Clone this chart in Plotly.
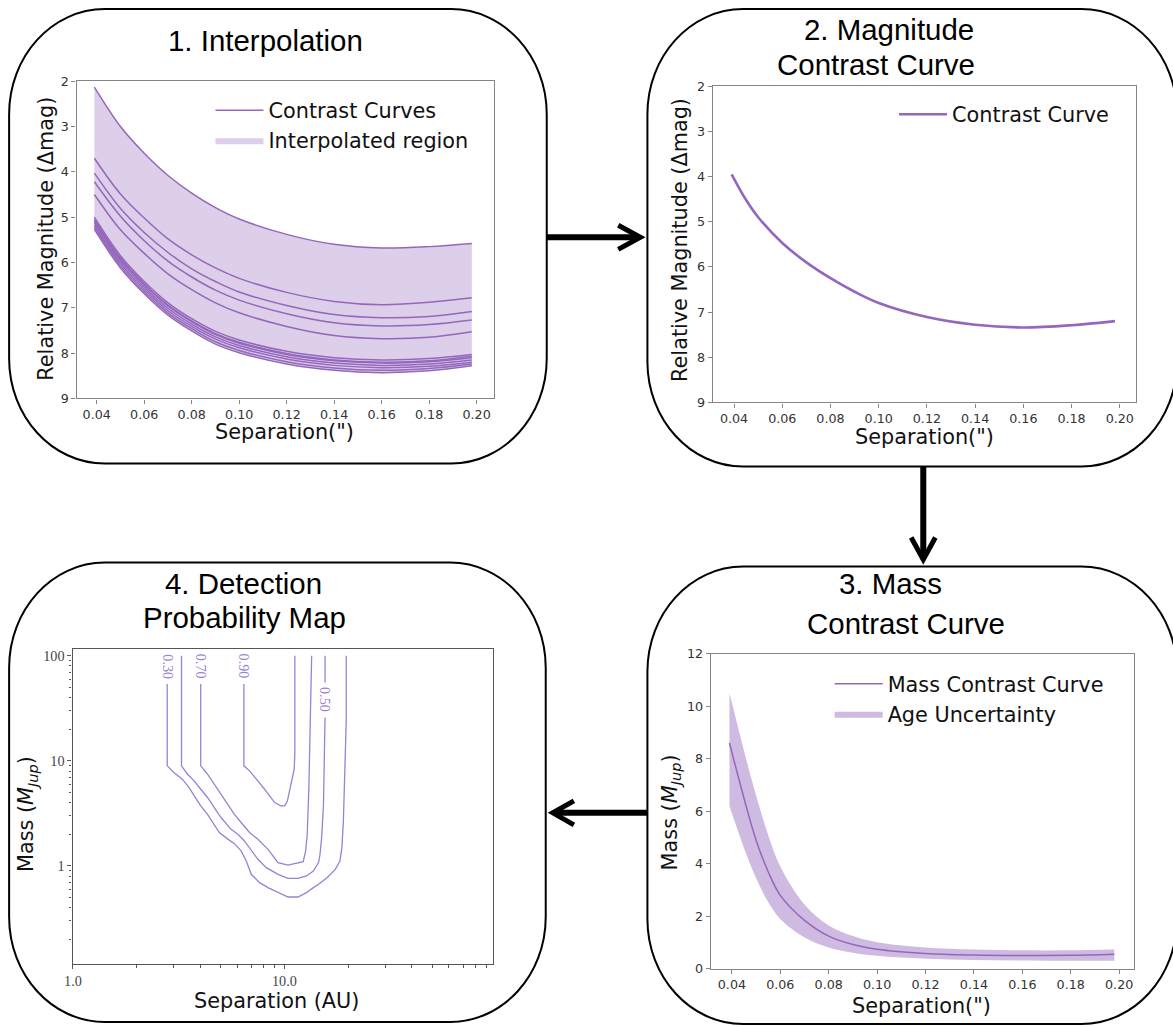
import math
import plotly.graph_objects as go

# The rendered page shows the figure offset by the 8px body margin and scaled by ~0.985;
# compensate so that reference pixel positions land where intended.
TARGET_W, TARGET_H = 1173, 1027
OFF = 8
SX = TARGET_W / (TARGET_W + 2 * OFF)
SY = TARGET_H / (TARGET_H + 2 * OFF)
W = TARGET_W + OFF
H = TARGET_H + OFF
FS = 1 / SY  # font compensation


def px(x):
    return (x / SX - OFF) / W


def py(y):
    return 1 - (y / SY - OFF) / H


PURPLE = "#9467bd"
FILL1 = "rgba(148,103,189,0.32)"
FILL3 = "rgba(148,103,189,0.45)"
CONTOUR = "#9b80d4"

# ---------------- Panel 1: interpolation ----------------
sep1 = [0.039, 0.05, 0.06, 0.07, 0.08, 0.09, 0.10, 0.12, 0.14, 0.16, 0.18, 0.198]
curve_a = [2.13, 3.00, 3.59, 4.08, 4.47, 4.79, 5.04, 5.38, 5.60, 5.68, 5.65, 5.58]
curve_b = [3.70, 4.49, 5.02, 5.48, 5.83, 6.12, 6.35, 6.66, 6.86, 6.93, 6.88, 6.78]
curve_c = [4.03, 4.81, 5.34, 5.78, 6.14, 6.42, 6.65, 6.95, 7.15, 7.22, 7.19, 7.08]
curve_d = [4.22, 4.98, 5.52, 5.97, 6.32, 6.61, 6.83, 7.13, 7.33, 7.40, 7.37, 7.27]
curve_e = [4.50, 5.28, 5.80, 6.25, 6.60, 6.89, 7.11, 7.41, 7.61, 7.68, 7.65, 7.53]
curve_f1 = [5.00, 5.85, 6.42, 6.89, 7.24, 7.52, 7.71, 7.96, 8.10, 8.15, 8.12, 8.03]
curve_f2 = [5.05, 5.90, 6.47, 6.94, 7.29, 7.57, 7.76, 8.01, 8.15, 8.20, 8.17, 8.07]
curve_f3 = [5.08, 5.93, 6.49, 6.96, 7.31, 7.59, 7.78, 8.03, 8.17, 8.22, 8.19, 8.10]
curve_f4 = [5.12, 5.97, 6.54, 7.01, 7.36, 7.64, 7.83, 8.08, 8.22, 8.27, 8.24, 8.15]
curve_f5 = [5.17, 6.02, 6.59, 7.06, 7.41, 7.69, 7.88, 8.13, 8.27, 8.32, 8.29, 8.20]
curve_f6 = [5.22, 6.07, 6.64, 7.11, 7.46, 7.75, 7.94, 8.19, 8.33, 8.38, 8.34, 8.24]
curve_f7 = [5.27, 6.12, 6.69, 7.16, 7.51, 7.80, 7.99, 8.24, 8.38, 8.43, 8.39, 8.28]
curves1 = [curve_a, curve_b, curve_c, curve_d, curve_e, curve_f1, curve_f2,
           curve_f3, curve_f4, curve_f5, curve_f6, curve_f7]

# ---------------- Panel 2: magnitude contrast curve ----------------
sep2 = [0.039, 0.045, 0.05, 0.06, 0.07, 0.08, 0.09, 0.10, 0.12, 0.14, 0.16, 0.18, 0.198]
mag2 = [3.95, 4.52, 4.90, 5.47, 5.90, 6.25, 6.55, 6.80, 7.11, 7.28, 7.34, 7.29, 7.20]

# ---------------- Panel 3: mass contrast curve ----------------
sep3 = [0.039, 0.045, 0.05, 0.055, 0.06, 0.07, 0.08, 0.09, 0.10, 0.12, 0.14, 0.16, 0.18, 0.198]
mass3 = [8.6, 6.5, 4.9, 3.7, 2.8, 1.85, 1.25, 0.93, 0.75, 0.59, 0.53, 0.51, 0.52, 0.56]
mass3_hi = [10.5, 8.3, 6.6, 5.1, 3.9, 2.45, 1.65, 1.25, 1.02, 0.82, 0.74, 0.71, 0.71, 0.74]
mass3_lo = [6.2, 4.6, 3.45, 2.55, 1.9, 1.2, 0.82, 0.62, 0.50, 0.39, 0.34, 0.32, 0.31, 0.31]

# ---------------- Panel 4: detection probability contours ----------------
c30_au = [2.79, 2.79, 3.00, 3.29, 3.54, 3.81, 4.02, 4.33, 4.66, 4.92, 5.40, 5.80, 6.24, 6.59,
          6.97, 7.63, 8.36, 9.33, 10.4, 11.6, 12.7, 13.7, 14.5, 15.9, 17.4, 18.3, 18.7, 19.0,
          19.2, 19.4, 19.6, 19.6]
c30_m = [53.7, 8.96, 7.74, 6.69, 5.57, 4.48, 3.73, 3.10, 2.49, 2.08, 1.80, 1.63, 1.39, 1.12,
         0.833, 0.694, 0.622, 0.557, 0.507, 0.507, 0.557, 0.622, 0.669, 0.774, 0.929, 1.116,
         1.50, 2.68, 5.57, 11.6, 24.0, 100]
c50_au = [3.26, 3.26, 3.48, 3.74, 4.02, 4.33, 4.66, 5.01, 5.59, 6.02, 6.47, 6.97, 7.49, 8.21,
          9.33, 10.4, 11.6, 12.7, 13.7, 14.5, 14.73, 15.0, 15.3, 15.45, 15.56, None, 15.56, 15.56]
c50_m = [100, 8.96, 7.46, 6.45, 5.37, 4.48, 3.59, 2.89, 2.23, 2.00, 1.73, 1.39, 1.157, 0.964,
         0.833, 0.763, 0.763, 0.803, 0.896, 1.076, 1.29, 1.86, 3.87, 11.6, 25.9, None, 55.7, 100]
c70_au = [4.02, 4.02, 4.33, 4.66, 5.01, 5.39, 5.80, 6.24, 6.84, 7.49, 8.36, 9.33, 10.4, 12.27,
          12.6, 12.82, 13.05, 13.25, 13.45]
c70_m = [53.7, 8.96, 7.46, 5.99, 4.81, 3.87, 3.10, 2.59, 2.08, 1.795, 1.44, 1.076, 1.02, 1.10,
         1.39, 2.00, 5.57, 24.0, 100]
c90_au = [6.43, 6.43, 6.84, 7.22, 7.63, 8.06, 8.51, 8.99, 9.61, 10.04, 10.33, 10.59, 10.88,
          11.12, 11.2, 11.2]
c90_m = [53.7, 8.96, 8.03, 7.05, 6.22, 5.37, 4.64, 4.01, 3.73, 3.73, 4.16, 5.18, 6.94, 8.33,
         11.6, 100]
contour_au = [c30_au, c50_au, c70_au, c90_au]
contour_m = [c30_m, c50_m, c70_m, c90_m]
contour_levels = ["0.30", "0.50", "0.70", "0.90"]
label_au = [2.79, 15.56, 4.02, 6.43]
label_m = [79, 38.7, 79, 79]

# tick labels
sep_ticks = [0.04, 0.06, 0.08, 0.10, 0.12, 0.14, 0.16, 0.18, 0.20]
sep_ticktext = ["0.04", "0.06", "0.08", "0.10", "0.12", "0.14", "0.16", "0.18", "0.20"]
mag_ticks = [2, 3, 4, 5, 6, 7, 8, 9]
mass_ticks = [0, 2, 4, 6, 8, 10, 12]
au_ticks = [1, 10]
au_ticktext = ["1.0", "10.0"]
au_minor = [2, 3, 4, 5, 6, 7, 8, 9, 20, 30, 40, 50, 60, 70, 80, 90]
m_ticks = [1, 10, 100]
m_ticktext = ["1", "10", "100"]
m_minor = [0.2, 0.3, 0.4, 0.5, 0.6, 0.7, 0.8, 0.9, 2, 3, 4, 5, 6, 7, 8, 9,
           20, 30, 40, 50, 60, 70, 80, 90]

fig = go.Figure()

# Panel 1 traces
fig.add_trace(go.Scatter(x=sep1, y=curve_f7, mode="lines", line=dict(width=0, shape="spline"),
                         showlegend=False, hoverinfo="skip", xaxis="x", yaxis="y"))
fig.add_trace(go.Scatter(x=sep1, y=curve_a, mode="lines", line=dict(width=0, shape="spline"),
                         fill="tonexty", fillcolor=FILL1, name="Interpolated region",
                         legend="legend", legendrank=2, xaxis="x", yaxis="y"))
for i, c in enumerate(curves1):
    fig.add_trace(go.Scatter(x=sep1, y=c, mode="lines",
                             line=dict(color=PURPLE, width=1.5, shape="spline"),
                             name="Contrast Curves", showlegend=(i == 0), legendgroup="cc",
                             legend="legend", legendrank=1, xaxis="x", yaxis="y"))

# Panel 2
fig.add_trace(go.Scatter(x=sep2, y=mag2, mode="lines",
                         line=dict(color=PURPLE, width=2.6, shape="spline"),
                         name="Contrast Curve", legend="legend2", xaxis="x2", yaxis="y2"))

# Panel 3
fig.add_trace(go.Scatter(x=sep3, y=mass3_lo, mode="lines", line=dict(width=0, shape="spline"),
                         showlegend=False, hoverinfo="skip", xaxis="x3", yaxis="y3"))
fig.add_trace(go.Scatter(x=sep3, y=mass3_hi, mode="lines", line=dict(width=0, shape="spline"),
                         fill="tonexty", fillcolor=FILL3, name="Age Uncertainty",
                         legend="legend3", legendrank=2, xaxis="x3", yaxis="y3"))
fig.add_trace(go.Scatter(x=sep3, y=mass3, mode="lines",
                         line=dict(color=PURPLE, width=1.5, shape="spline"),
                         name="Mass Contrast Curve", legend="legend3", legendrank=1,
                         xaxis="x3", yaxis="y3"))

# Panel 4
for xa, ya in zip(contour_au, contour_m):
    fig.add_trace(go.Scatter(x=xa, y=ya, mode="lines", line=dict(color=CONTOUR, width=1.3),
                             showlegend=False, connectgaps=False, xaxis="x4", yaxis="y4"))

annotations = []
for lev, la, lm in zip(contour_levels, label_au, label_m):
    annotations.append(dict(x=math.log10(la), y=math.log10(lm), xref="x4", yref="y4", text=lev,
                            showarrow=False, textangle=90,
                            font=dict(family="Liberation Serif", size=14 * FS, color=CONTOUR)))

# panel titles
TFONT = dict(family="Liberation Sans", size=29 * FS, color="#000")
for text, x, y in [("1. Interpolation", 264, 40),
                   ("2. Magnitude", 883, 29), ("Contrast Curve", 870, 64),
                   ("3. Mass", 884, 583), ("Contrast Curve", 900, 623),
                   ("4. Detection", 242, 583), ("Probability Map", 243, 617)]:
    annotations.append(dict(x=px(x), y=py(y), xref="paper", yref="paper", text=text,
                            showarrow=False, font=TFONT, xanchor="center", yanchor="middle"))

# axis titles
TITLEFONT = dict(family="DejaVu Sans", size=20.5 * FS, color="#111")
MASS_LABEL = "Mass (<i>M</i><sub><i>Jup</i></sub>)"
for text, x, y, ang in [('Separation(")', 283, 432, 0), ("Relative Magnitude (Δmag)", 46, 238, -90),
                        ('Separation(")', 918, 437, 0), ("Relative Magnitude (Δmag)", 676, 240, -90),
                        ('Separation(")', 915, 1005, 0), (MASS_LABEL, 666, 812, -90),
                        ("Separation (AU)", 275, 1000, 0), (MASS_LABEL, 27, 813, -90)]:
    annotations.append(dict(x=px(x), y=py(y), xref="paper", yref="paper", text=text,
                            showarrow=False, font=TITLEFONT, textangle=ang,
                            xanchor="center", yanchor="middle"))


# rounded boxes and arrows
def rounded_box(L, T, R, B, rx=95, ry=105):
    k = 0.5523
    pts = [
        ("M", [(L + rx, T)]),
        ("L", [(R - rx, T)]),
        ("C", [(R - rx + k * rx, T), (R, T + ry - k * ry), (R, T + ry)]),
        ("L", [(R, B - ry)]),
        ("C", [(R, B - ry + k * ry), (R - rx + k * rx, B), (R - rx, B)]),
        ("L", [(L + rx, B)]),
        ("C", [(L + rx - k * rx, B), (L, B - ry + k * ry), (L, B - ry)]),
        ("L", [(L, T + ry)]),
        ("C", [(L, T + ry - k * ry), (L + rx - k * rx, T), (L + rx, T)]),
    ]
    s = ""
    for cmd, ps in pts:
        s += cmd + " " + " ".join(f"{px(a):.5f},{py(b):.5f}" for a, b in ps) + " "
    return s + "Z"


shapes = []
for L, T, R, B in [(9, 9, 543, 463), (643, 9, 1169, 466), (643, 566, 1169, 1023),
                   (9, 562, 542, 1021)]:
    shapes.append(dict(type="path", path=rounded_box(L, T, R, B), xref="paper", yref="paper",
                       line=dict(color="#000", width=2), fillcolor="rgba(0,0,0,0)", layer="below"))


def path_of(points):
    return "M " + " L ".join(f"{px(a):.5f},{py(b):.5f}" for a, b in points)


# arrow 1 -> right (tip point pulled back to offset the mitred join)
shapes.append(dict(type="path", path=path_of([(543, 237), (634, 237)]), xref="paper", yref="paper",
                   line=dict(color="#000", width=6)))
shapes.append(dict(type="path", path=path_of([(614, 225), (636, 237), (614, 249)]), xref="paper",
                   yref="paper", line=dict(color="#000", width=5)))
# arrow 2 -> down
shapes.append(dict(type="path", path=path_of([(917, 466), (917, 557)]), xref="paper", yref="paper",
                   line=dict(color="#000", width=6)))
shapes.append(dict(type="path", path=path_of([(905, 537), (917, 559), (929, 537)]), xref="paper",
                   yref="paper", line=dict(color="#000", width=5)))
# arrow 3 -> left
shapes.append(dict(type="path", path=path_of([(643, 812), (551, 812)]), xref="paper", yref="paper",
                   line=dict(color="#000", width=6)))
shapes.append(dict(type="path", path=path_of([(570, 800), (549, 812), (570, 824)]), xref="paper",
                   yref="paper", line=dict(color="#000", width=5)))

TICKFONT = dict(family="DejaVu Sans", size=12.5 * FS, color="#333")
common = dict(showline=True, mirror=True, linecolor="#858585", linewidth=1.3, ticks="outside",
              ticklen=4, tickwidth=1, tickcolor="#858585", showgrid=False, zeroline=False,
              tickfont=TICKFONT)
common4 = dict(showline=True, mirror=True, linecolor="#555", linewidth=1.3, ticks="outside",
               ticklen=4, tickcolor="#555", showgrid=False, zeroline=False,
               tickfont=dict(family="Liberation Serif", size=14 * FS, color="#444"))

LEG = dict(bgcolor="rgba(0,0,0,0)", font=dict(family="DejaVu Sans", size=20.5 * FS, color="#111"),
           itemwidth=48, xanchor="left", yanchor="top", traceorder="normal")

fig.update_layout(
    width=W, height=H, autosize=False,
    margin=dict(l=0, r=0, t=0, b=0),
    paper_bgcolor="white", plot_bgcolor="white",
    showlegend=True,
    xaxis=dict(domain=[px(76), px(491)], range=[0.0315, 0.2075], anchor="y",
               tickvals=sep_ticks, ticktext=sep_ticktext, **common),
    yaxis=dict(domain=[py(398), py(81)], range=[9, 2], anchor="x", tickvals=mag_ticks, **common),
    xaxis2=dict(domain=[px(708), px(1128)], range=[0.0312, 0.2066], anchor="y2",
                tickvals=sep_ticks, ticktext=sep_ticktext, **common),
    yaxis2=dict(domain=[py(402), py(86)], range=[9, 2], anchor="x2", tickvals=mag_ticks, **common),
    xaxis3=dict(domain=[px(706), px(1126)], range=[0.0313, 0.2060], anchor="y3",
                tickvals=sep_ticks, ticktext=sep_ticktext, **common),
    yaxis3=dict(domain=[py(968), py(653)], range=[0, 12], anchor="x3", tickvals=mass_ticks,
                **common),
    xaxis4=dict(domain=[px(72), px(490)], type="log", range=[-0.002, 1.988], anchor="y4",
                tickvals=au_ticks, ticktext=au_ticktext,
                minor=dict(ticks="outside", ticklen=2.5, tickvals=au_minor, tickcolor="#555"),
                **common4),
    yaxis4=dict(domain=[py(963), py(648)], type="log", range=[-0.932, 2.067], anchor="x4",
                tickvals=m_ticks, ticktext=m_ticktext,
                minor=dict(ticks="outside", ticklen=2.5, tickvals=m_minor, tickcolor="#555"),
                **common4),
    legend=dict(x=px(209), y=py(90), **LEG),
    legend2=dict(x=px(888), y=py(94), **LEG),
    legend3=dict(x=px(824), y=py(663), **LEG),
    annotations=annotations,
    shapes=shapes,
)

fig.write_html("out.html")
